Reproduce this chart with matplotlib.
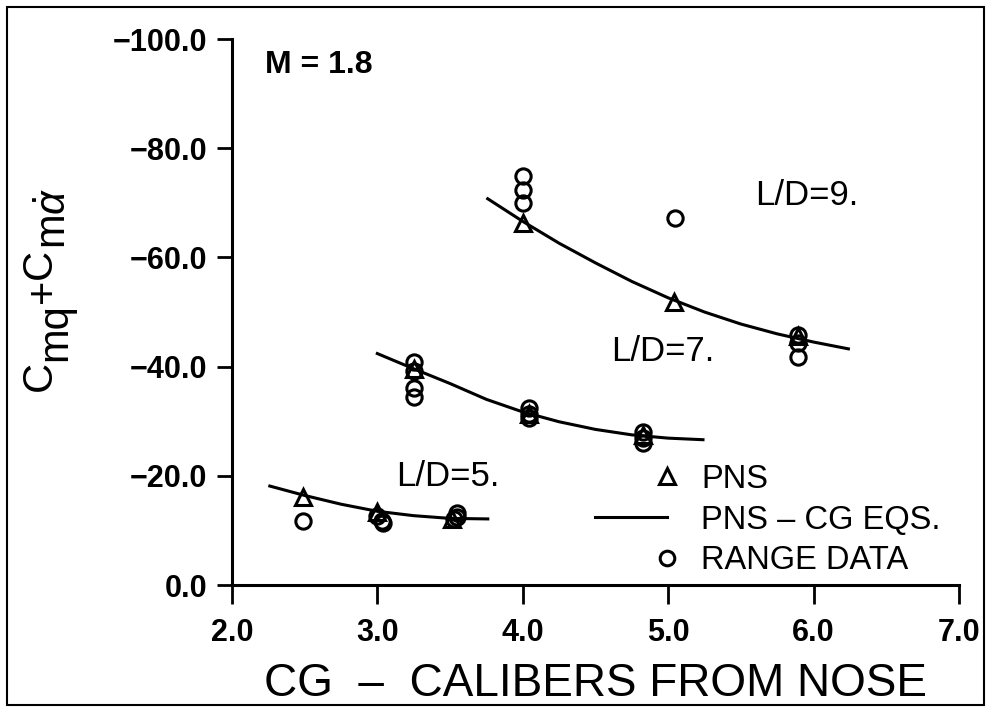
import numpy as np
import matplotlib
matplotlib.use("Agg")
import matplotlib.pyplot as plt
from matplotlib.lines import Line2D
from matplotlib.legend_handler import HandlerLine2DCompound
from matplotlib.patches import Rectangle
from matplotlib.ticker import FuncFormatter

plt.rcParams['font.family'] = ['Liberation Sans', 'DejaVu Sans']
plt.rcParams['mathtext.fontset'] = 'custom'
plt.rcParams['mathtext.rm'] = 'Liberation Sans'
plt.rcParams['mathtext.it'] = 'Liberation Sans:italic'

# PNS predictions (triangles)
pns_x = [2.49, 3.00, 3.51, 3.25, 4.04, 4.83, 4.00, 5.04, 5.89]
pns_y = [-16.1, -13.4, -12.0, -39.6, -31.3, -27.5, -66.3, -51.8, -45.6]

# range data (circles)
range_x = [2.49, 3.00, 3.03, 3.04, 3.53, 3.55, 3.55,
           3.25, 3.25, 3.25, 3.25, 4.04, 4.04, 4.04, 4.83, 4.83, 4.83,
           4.00, 4.00, 4.00, 5.05, 5.89, 5.89, 5.89]
range_y = [-11.7, -12.7, -11.8, -11.3, -12.0, -13.1, -12.4,
           -40.9, -39.2, -36.1, -34.5, -32.4, -31.3, -30.5, -28.0, -27.0, -26.0,
           -74.9, -72.4, -70.0, -67.2, -45.8, -44.3, -41.8]

# PNS - CG equation curves, one per fineness ratio
curve5_x = [2.25, 2.50, 2.75, 3.00, 3.25, 3.50, 3.77]
curve5_y = [-18.2, -16.4, -14.8, -13.5, -12.7, -12.2, -12.1]
curve7_x = [2.99, 3.25, 3.50, 3.75, 4.00, 4.25, 4.50, 4.75, 5.00, 5.25]
curve7_y = [-42.5, -39.6, -36.9, -34.0, -31.7, -29.9, -28.5, -27.5, -26.9, -26.6]
curve9_x = [3.75, 4.00, 4.25, 4.50, 4.75, 5.00, 5.25, 5.50, 5.75, 6.00, 6.25]
curve9_y = [-70.9, -66.6, -62.6, -59.0, -55.6, -52.6, -50.0, -47.8, -46.0, -44.5, -43.2]

xticks = [2.0, 3.0, 4.0, 5.0, 6.0, 7.0]
yticks = [0.0, -20.0, -40.0, -60.0, -80.0, -100.0]


class EndMarker(HandlerLine2DCompound):
    # single marker sitting at the right end of the legend key
    def get_xdata(self, legend, xdescent, ydescent, width, height, fontsize):
        xdata = np.array([-xdescent, -xdescent + width])
        return xdata, np.array([-xdescent + width])


def fmt(v, pos):
    return ('%.1f' % v).replace('-', '\u2212')


fig = plt.figure(figsize=(9.88, 7.11), dpi=100)
ax = fig.add_axes([0.2348, 0.1772, 0.7358, 0.7679])

lw = 2.2
for cx, cy in [(curve5_x, curve5_y), (curve7_x, curve7_y), (curve9_x, curve9_y)]:
    ax.plot(cx, cy, color='k', lw=lw, solid_capstyle='butt')
ax.plot(range_x, range_y, ls='none', marker='o', ms=11, mfc='none', mec='k', mew=2.2)
ax.plot(pns_x, pns_y, ls='none', marker='^', ms=11.5, mfc='none', mec='k', mew=2.2)

ax.set_xlim(2.0, 7.0)
ax.set_ylim(0.0, -100.0)
ax.set_xticks(xticks)
ax.set_yticks(yticks)
ax.xaxis.set_major_formatter(FuncFormatter(fmt))
ax.yaxis.set_major_formatter(FuncFormatter(fmt))
ax.tick_params(axis='x', direction='out', length=14, width=2, pad=10, labelsize=22)
ax.tick_params(axis='y', direction='out', length=11, width=2, pad=7, labelsize=22)
for lab in ax.get_xticklabels() + ax.get_yticklabels():
    lab.set_fontweight('bold')
for s in ['top', 'right']:
    ax.spines[s].set_visible(False)
for s in ['left', 'bottom']:
    ax.spines[s].set_linewidth(2.2)

ax.set_xlabel('CG  \u2013  CALIBERS FROM NOSE', fontsize=33, labelpad=10)

# y label built from pieces so the subscripts keep full size
F = 30
prev = ax.text(-0.249, 0.355, 'C', fontsize=F, rotation=90,
               rotation_mode='anchor', ha='left', va='baseline', transform=ax.transAxes)
for piece, shift in [('mq', 11), ('+', 3), ('C', 0), (r'm$\dot{\alpha}$', 11)]:
    prev = ax.annotate(piece, xy=(-0.249, 1.0), xycoords=(ax.transAxes, prev),
                       xytext=(shift, 0), textcoords='offset points',
                       fontsize=F, rotation=90,
                       rotation_mode='anchor', ha='left', va='baseline')

ax.text(2.23, -95.2, 'M = 1.8', fontsize=23, fontweight='bold', va='center')
ax.text(5.60, -71.4, 'L/D=9.', fontsize=25, va='center')
ax.text(4.61, -42.7, 'L/D=7.', fontsize=25, va='center')
ax.text(3.13, -19.8, 'L/D=5.', fontsize=25, va='center')

handles = [Line2D([], [], ls='none', marker='^', ms=11, mfc='none', mec='k', mew=2.2),
           Line2D([], [], color='k', lw=lw),
           Line2D([], [], ls='none', marker='o', ms=10.5, mfc='none', mec='k', mew=2.2)]
labels = ['PNS', 'PNS \u2013 CG EQS.', 'RANGE DATA']
ax.legend(handles, labels, loc='upper left', bbox_to_anchor=(0.4993, 0.222),
          frameon=False, fontsize=23.5,
          handlelength=2.2, handletextpad=1.05,
          labelspacing=0.3, borderpad=0, borderaxespad=0,
          handler_map={handles[0]: EndMarker(), handles[2]: EndMarker()})

fig.add_artist(Rectangle((0.0071, 0.0084), 0.9889, 0.9817, transform=fig.transFigure,
                         fill=False, lw=1.5, ec='k'))

fig.savefig('out.png', dpi=100)
